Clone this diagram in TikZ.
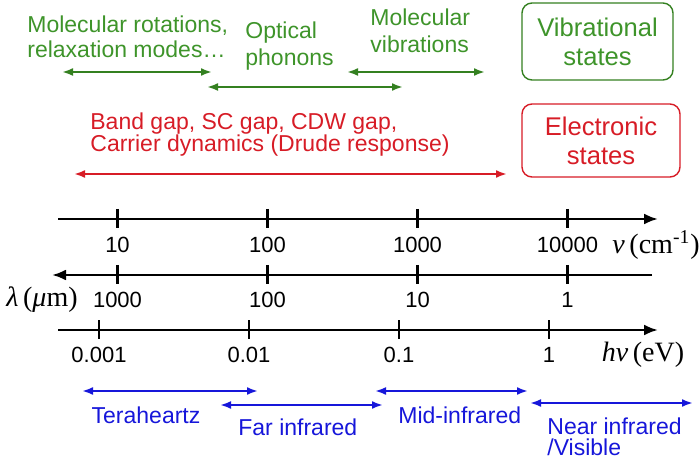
\documentclass[tikz,border=0pt]{standalone}
\usepackage{fontspec}
\setmainfont{Liberation Sans}
\newfontfamily\tms{Liberation Serif}
\usetikzlibrary{arrows.meta,positioning}
\definecolor{grn}{RGB}{62,148,42}
\definecolor{grnarr}{RGB}{52,128,32}
\definecolor{rd}{RGB}{215,28,38}
\definecolor{bl}{RGB}{22,22,218}
\tikzset{
  txt/.style={inner sep=0pt, align=left, font=\fontsize{11.5}{12.5}\selectfont},
  span/.style={line width=1.2pt, {Latex[length=5.5pt,width=4pt]}-{Latex[length=5.5pt,width=4pt]}},
  axis/.style={line width=1.3pt},
  axtip/.style={-{Latex[length=7pt,width=5.5pt]}},
  tick/.style={line width=1.1pt},
  statebox/.style={draw, rounded corners=5pt, line width=0.7pt, inner sep=0pt, align=center,
    font=\fontsize{12.8}{14.5}\selectfont},
  num/.style={inner sep=0pt, font=\fontsize{11}{12}\selectfont},
  unit/.style={inner sep=0pt, font=\tms\fontsize{14}{15}\selectfont}
}
\begin{document}
\begin{tikzpicture}[x=0.5pt,y=-0.5pt]
    \useasboundingbox (0,0) rectangle (700,464);
    %% vibrational states (green)
    \node[txt, text=grn, anchor=west] (rot) at (27,37) {Molecular rotations,\\relaxation modes…};
    \node[txt, text=grn, anchor=west, font=\fontsize{11.5}{13.5}\selectfont] (opt) at (245,46) {Optical\\phonons};
    \node[txt, text=grn, anchor=west, font=\fontsize{11.5}{13.5}\selectfont] (mol) at (370,31) {Molecular\\vibrations};
    \node[statebox, draw=grnarr, text=grn, minimum width=75.5pt, minimum height=38.5pt] (vib) at (597.5,41.5) {Vibrational\\states};
    \coordinate (rotL) at (62,72);  \coordinate (rotR) at (212,72);
    \coordinate (optL) at (207,87); \coordinate (optR) at (403,87);
    \coordinate (molL) at (347,72); \coordinate (molR) at (485,72);
    \draw[span, grnarr] (rotL) -- (rotR);
    \draw[span, grnarr] (optL) -- (optR);
    \draw[span, grnarr] (molL) -- (molR);
    %% electronic states (red)
    \node[txt, text=rd, anchor=west, font=\fontsize{11.5}{11}\selectfont] (gap) at (90,135) {Band gap, SC gap, CDW gap,\\Carrier dynamics (Drude response)};
    \node[statebox, draw=rd, text=rd, minimum width=79pt, minimum height=36.5pt] (ele) at (601,140.5) {Electronic\\states};
    \coordinate (gapL) at (74,174); \coordinate (gapR) at (507,174);
    \draw[span, rd] (gapL) -- (gapR);
    %% wavenumber axis
    \coordinate (nuL) at (58,219); \coordinate (nuR) at (658,219);
    \draw[axis, axtip] (nuL) -- (nuR);
    \foreach \x/\t [count=\i] in {117.5/10, 267.5/100, 417.5/1000, 567.5/10000} {
        \draw[tick] (\x,209) -- (\x,228);
        \node[num] (nu\i) at (\x,245) {\t};
    }
    \node[unit] (nuU) at (656,245) {\itshape ν\upshape\,(cm\textsuperscript{-1})};
    %% wavelength axis
    \coordinate (lamR) at (652,275); \coordinate (lamL) at (52,275);
    \draw[axis, axtip] (lamR) -- (lamL);
    \foreach \x/\t [count=\i] in {117.5/1000, 267.5/100, 417.5/10, 567.5/1} {
        \draw[tick] (\x,265) -- (\x,284);
        \node[num] (lam\i) at (\x,300) {\t};
    }
    \node[unit] (lamU) at (42,300) {\itshape λ\upshape\,(\itshape μ\upshape m)};
    %% energy axis
    \coordinate (evL) at (58,330); \coordinate (evR) at (658,330);
    \draw[axis, axtip] (evL) -- (evR);
    \foreach \x/\t [count=\i] in {99/0.001, 249/0.01, 399/0.1, 549/1} {
        \draw[tick] (\x,320) -- (\x,339);
        \node[num] (ev\i) at (\x,355) {\t};
    }
    \node[unit] (evU) at (643,355) {\itshape hν\upshape\,(eV)};
    %% spectral ranges (blue)
    \coordinate (thzL) at (82,391);  \coordinate (thzR) at (258,391);
    \coordinate (firL) at (220,405); \coordinate (firR) at (383,405);
    \coordinate (mirL) at (375,391); \coordinate (mirR) at (528,391);
    \coordinate (nirL) at (530,403); \coordinate (nirR) at (693,403);
    \draw[span, bl] (thzL) -- (thzR);
    \draw[span, bl] (firL) -- (firR);
    \draw[span, bl] (mirL) -- (mirR);
    \draw[span, bl] (nirL) -- (nirR);
    \node[txt, text=bl] (thz) at (146,415) {Teraheartz};
    \node[txt, text=bl, anchor=west] (fir) at (238,427) {Far infrared};
    \node[txt, text=bl, anchor=west] (mir) at (398,415) {Mid-infrared};
    \node[txt, text=bl, anchor=west, font=\fontsize{11.5}{10.5}\selectfont] (nir) at (547,437) {Near infrared\\/Visible};
\end{tikzpicture}
\end{document}
